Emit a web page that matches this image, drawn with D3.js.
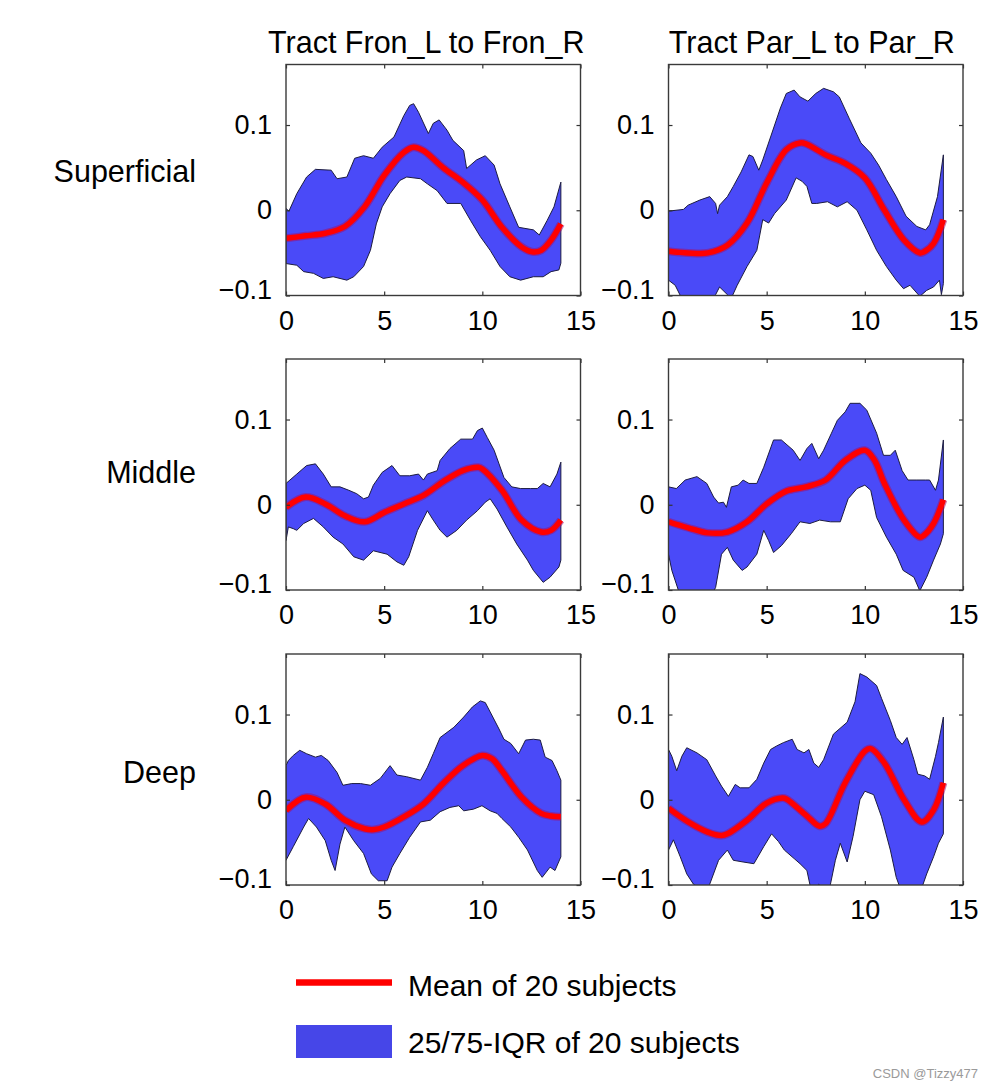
<!DOCTYPE html>
<html>
<head>
<meta charset="utf-8">
<script src="https://cdn.jsdelivr.net/npm/d3@7"></script>
<style>
  html, body { margin: 0; padding: 0; background: #fff; }
  svg { display: block; }
  text { font-family: "Liberation Sans", Arial, Helvetica, sans-serif; fill: #000; }
</style>
</head>
<body>
<svg id="chart" width="996" height="1090"></svg>
<script>
// ---------- labels / ticks ----------
const colTitles = ["Tract Fron_L to Fron_R", "Tract Par_L to Par_R"];
const rowLabels = ["Superficial", "Middle", "Deep"];
const xTicks = [0, 5, 10, 15];
const yTicks = [-0.1, 0, 0.1];
const legendLabels = ["Mean of 20 subjects", "25/75-IQR of 20 subjects"];
const watermark = "CSDN @Tizzy477";

// ---------- data: [position, value] ----------
// Row 1: Superficial, Fron
const fronSupUpper = [[0,0.002],[0.15,-0.001],[0.55,0.0195],[1.05,0.039],[1.5,0.048],[2.3,0.047],[2.6,0.037],[3.1,0.039],[3.5,0.061],[3.95,0.064],[4.45,0.061],[4.9,0.074],[5.5,0.086],[6.0,0.111],[6.3,0.123],[6.5,0.125],[6.75,0.115],[7.25,0.090],[7.5,0.102],[7.8,0.106],[8.2,0.094],[8.5,0.082],[9.05,0.070],[9.2,0.049],[9.7,0.059],[10.15,0.064],[10.6,0.053],[10.9,0.031],[11.4,0.004],[11.85,-0.020],[12.6,-0.023],[12.9,-0.029],[13.3,-0.012],[13.65,0.004],[14,0.033]];
const fronSupLower = [[0,-0.0625],[0.55,-0.0645],[0.9,-0.072],[1.4,-0.074],[1.9,-0.080],[2.4,-0.078],[3.1,-0.082],[3.45,-0.078],[3.95,-0.066],[4.3,-0.047],[4.6,-0.016],[4.9,0.004],[5.3,0.0195],[5.8,0.035],[6.15,0.039],[6.85,0.037],[7.2,0.031],[7.7,0.023],[8.2,0.008],[8.9,0.008],[9.4,-0.012],[9.9,-0.031],[10.4,-0.047],[10.9,-0.066],[11.4,-0.078],[11.95,-0.082],[12.6,-0.078],[13.1,-0.078],[13.5,-0.072],[13.9,-0.070],[14,-0.062]];
const fronSupMean = [[0,-0.033],[1,-0.030],[2,-0.027],[3,-0.019],[4,0.004],[5,0.041],[6,0.068],[6.5,0.074],[7,0.070],[8,0.050],[9,0.033],[10,0.012],[11,-0.020],[12,-0.043],[12.6,-0.049],[13,-0.047],[13.5,-0.035],[14,-0.016]];

// Row 1: Superficial, Par
const parSupUpper = [[0,-0.001],[0.76,0.001],[1.0,0.006],[1.6,0.012],[2.1,0.016],[2.4,0.008],[2.5,-0.004],[2.6,0.006],[3.0,0.016],[3.3,0.028],[3.7,0.045],[4.1,0.065],[4.3,0.063],[4.6,0.047],[4.8,0.059],[5.2,0.086],[5.7,0.120],[6.0,0.137],[6.4,0.141],[6.7,0.133],[7.1,0.128],[7.5,0.137],[7.9,0.143],[8.4,0.139],[8.7,0.133],[9.2,0.108],[9.8,0.079],[10.3,0.067],[10.7,0.053],[11.1,0.036],[11.6,0.016],[12.1,-0.007],[12.65,-0.019],[13.1,-0.023],[13.3,-0.017],[13.7,0.016],[14,0.065]];
const parSupLower = [[0,-0.082],[0.34,-0.088],[0.6,-0.100],[1.1,-0.115],[2.1,-0.110],[2.4,-0.099],[2.6,-0.090],[3.0,-0.099],[3.2,-0.103],[3.5,-0.088],[4.0,-0.066],[4.5,-0.047],[4.8,-0.011],[5.1,-0.015],[5.4,-0.004],[6.0,0.012],[6.5,0.038],[6.8,0.034],[7.05,0.028],[7.3,0.008],[7.55,0.008],[8.1,0.010],[8.6,0.004],[9.1,0.010],[9.6,0.000],[10.1,-0.023],[10.6,-0.047],[11.1,-0.066],[11.6,-0.082],[11.97,-0.092],[12.3,-0.088],[12.8,-0.101],[13.15,-0.094],[13.5,-0.090],[13.8,-0.082],[13.9,-0.099],[14,-0.086]];
const parSupMean = [[0,-0.048],[1,-0.050],[2,-0.050],[3,-0.041],[4,-0.015],[5,0.032],[6,0.071],[6.7,0.079],[7,0.078],[8,0.065],[9,0.055],[10,0.038],[11,0.000],[12,-0.035],[12.8,-0.050],[13,-0.049],[13.5,-0.039],[14,-0.011]];

// Row 2: Middle, Fron
const fronMidUpper = [[0,0.025],[0.2,0.029],[0.55,0.036],[1.05,0.046],[1.5,0.048],[1.9,0.036],[2.3,0.021],[2.75,0.021],[3.2,0.017],[3.6,0.013],[3.95,0.007],[4.2,0.009],[4.45,0.023],[4.9,0.038],[5.4,0.046],[5.8,0.034],[6.3,0.034],[6.75,0.036],[7.0,0.029],[7.2,0.036],[7.7,0.040],[7.85,0.052],[8.35,0.066],[8.9,0.077],[9.5,0.077],[9.75,0.087],[10.0,0.090],[10.25,0.079],[10.6,0.064],[10.85,0.048],[11.1,0.032],[11.5,0.021],[11.95,0.019],[12.45,0.019],[12.8,0.019],[13.1,0.025],[13.45,0.021],[13.8,0.036],[14,0.050]];
const fronMidLower = [[0,-0.042],[0.12,-0.026],[0.37,-0.028],[0.55,-0.030],[0.9,-0.022],[1.4,-0.016],[1.9,-0.026],[2.4,-0.038],[2.9,-0.046],[3.45,-0.061],[3.95,-0.065],[4.45,-0.054],[5.15,-0.058],[5.65,-0.067],[6.0,-0.071],[6.25,-0.061],[6.7,-0.030],[7.2,-0.007],[7.5,-0.018],[7.85,-0.030],[8.2,-0.038],[8.7,-0.030],[9.2,-0.018],[9.75,-0.007],[10.15,0.003],[10.4,0.007],[10.75,-0.005],[11.25,-0.026],[11.75,-0.046],[12.3,-0.065],[12.6,-0.077],[13.1,-0.091],[13.45,-0.085],[13.9,-0.073],[14,-0.065]];
const fronMidMean = [[0,-0.003],[1,0.009],[2,0.001],[3,-0.013],[4,-0.020],[5,-0.009],[6,0.001],[7,0.011],[8,0.027],[9,0.040],[9.8,0.044],[10,0.042],[11,0.017],[12,-0.018],[13,-0.032],[13.5,-0.030],[14,-0.018]];

// Row 2: Middle, Par
const parMidUpper = [[0,0.021],[0.4,0.019],[0.85,0.029],[1.45,0.033],[1.95,0.025],[2.3,0.009],[2.55,0.002],[2.8,0.003],[2.95,-0.003],[3.2,0.021],[3.55,0.023],[3.8,0.029],[4.1,0.025],[4.5,0.025],[4.85,0.044],[5.35,0.076],[5.75,0.076],[6.35,0.064],[6.7,0.052],[7.05,0.066],[7.3,0.072],[7.65,0.054],[7.9,0.064],[8.3,0.084],[8.6,0.099],[9.0,0.109],[9.25,0.119],[9.75,0.119],[10.1,0.111],[10.6,0.084],[10.95,0.058],[11.3,0.058],[11.55,0.064],[11.9,0.040],[12.2,0.029],[12.65,0.029],[13.1,0.029],[13.3,0.029],[13.6,0.017],[13.75,0.029],[14,0.076]];
const parMidLower = [[0,-0.058],[0.17,-0.077],[0.5,-0.100],[1.27,-0.120],[2.0,-0.115],[2.4,-0.097],[2.7,-0.058],[3.0,-0.050],[3.3,-0.065],[3.75,-0.077],[4.0,-0.073],[4.5,-0.058],[4.85,-0.030],[5.1,-0.042],[5.35,-0.056],[5.75,-0.048],[6.25,-0.034],[6.7,-0.020],[7.2,-0.022],[7.7,-0.018],[8.25,-0.020],[8.75,-0.020],[9.15,0.007],[9.6,0.019],[10.0,0.023],[10.3,0.017],[10.6,-0.015],[11.1,-0.038],[11.6,-0.058],[11.95,-0.077],[12.5,-0.085],[12.8,-0.101],[13.15,-0.085],[13.5,-0.065],[13.85,-0.046],[14,-0.034]];
const parMidMean = [[0,-0.020],[1,-0.027],[2,-0.033],[3,-0.032],[4,-0.020],[5,0.001],[6,0.016],[7,0.021],[8,0.029],[9,0.052],[10,0.064],[10.5,0.052],[11,0.025],[12,-0.018],[12.8,-0.038],[13,-0.036],[13.5,-0.022],[14,0.006]];

// Row 3: Deep, Fron
const fronDeepUpper = [[0,0.040],[0.12,0.046],[0.37,0.052],[0.7,0.058],[1.05,0.054],[1.5,0.050],[1.8,0.052],[2.15,0.046],[2.6,0.032],[2.9,0.017],[3.35,0.019],[3.8,0.019],[4.3,0.017],[4.8,0.025],[5.3,0.040],[5.65,0.029],[6.15,0.027],[6.85,0.023],[7.2,0.038],[7.5,0.054],[7.85,0.073],[8.55,0.085],[9.05,0.097],[9.5,0.109],[9.9,0.116],[10.15,0.114],[10.4,0.103],[10.85,0.083],[11.1,0.071],[11.45,0.066],[11.85,0.054],[12.2,0.070],[12.6,0.071],[12.95,0.070],[13.2,0.050],[13.55,0.046],[13.8,0.034],[14,0.023]];
const fronDeepLower = [[0,-0.071],[0.37,-0.055],[0.9,-0.032],[1.15,-0.022],[1.55,-0.032],[2.0,-0.048],[2.3,-0.071],[2.5,-0.083],[2.75,-0.052],[3.0,-0.032],[3.45,-0.048],[3.95,-0.063],[4.35,-0.087],[4.7,-0.095],[5.15,-0.095],[5.4,-0.079],[5.8,-0.063],[6.3,-0.044],[6.85,-0.026],[7.35,-0.024],[7.85,-0.014],[8.35,-0.009],[8.8,-0.007],[9.05,-0.013],[9.55,-0.011],[9.98,-0.007],[10.4,-0.013],[10.75,-0.016],[11.0,-0.022],[11.45,-0.032],[11.85,-0.044],[12.3,-0.059],[12.8,-0.083],[13.05,-0.091],[13.45,-0.079],[13.7,-0.083],[14,-0.067]];
const fronDeepMean = [[0,-0.0125],[1,0.003],[2,-0.005],[3,-0.024],[4,-0.034],[4.5,-0.035],[5,-0.032],[6,-0.020],[7,-0.005],[8,0.019],[9,0.040],[10,0.052],[10.5,0.048],[11,0.034],[12,0.003],[13,-0.016],[13.5,-0.019],[14,-0.020]];

// Row 3: Deep, Par
const parDeepUpper = [[0,0.059],[0.17,0.051],[0.42,0.034],[0.68,0.051],[0.93,0.061],[1.45,0.055],[1.95,0.047],[2.4,0.028],[2.7,0.016],[3.05,0.004],[3.4,0.018],[3.65,0.014],[4.1,0.014],[4.5,0.024],[4.85,0.043],[5.2,0.059],[5.5,0.063],[5.85,0.067],[6.3,0.071],[6.55,0.059],[6.9,0.055],[7.15,0.059],[7.4,0.043],[7.65,0.038],[7.9,0.047],[8.4,0.077],[9.1,0.091],[9.5,0.115],[9.75,0.148],[10.1,0.144],[10.6,0.134],[10.85,0.119],[11.3,0.093],[11.6,0.073],[11.9,0.065],[12.15,0.073],[12.5,0.047],[12.7,0.030],[13.05,0.028],[13.3,0.024],[13.6,0.051],[13.75,0.067],[14,0.097]];
const parDeepLower = [[0,-0.059],[0.25,-0.047],[0.6,-0.067],[0.93,-0.087],[1.27,-0.099],[1.8,-0.107],[2.1,-0.099],[2.55,-0.071],[3.0,-0.059],[3.3,-0.071],[3.8,-0.073],[4.35,-0.075],[4.85,-0.055],[5.25,-0.040],[5.6,-0.049],[5.9,-0.059],[6.4,-0.069],[6.7,-0.075],[7.05,-0.083],[7.3,-0.110],[7.65,-0.099],[8.15,-0.110],[8.5,-0.071],[8.75,-0.051],[9.1,-0.073],[9.4,-0.043],[9.75,0.000],[10.0,0.010],[10.45,0.006],[10.85,-0.020],[11.3,-0.059],[11.6,-0.091],[11.9,-0.110],[12.8,-0.110],[13.15,-0.087],[13.5,-0.067],[13.75,-0.051],[14,-0.040]];
const parDeepMean = [[0,-0.010],[1,-0.026],[2,-0.038],[2.7,-0.042],[3,-0.040],[4,-0.024],[5,-0.004],[5.8,0.002],[6,0.001],[7,-0.018],[7.7,-0.031],[8,-0.028],[9,0.020],[10,0.057],[10.3,0.060],[11,0.043],[12,0.000],[12.9,-0.026],[13.5,-0.012],[14,0.020]];

// ---------- layout ----------
const svg = d3.select("#chart");
svg.append("rect").attr("width", 996).attr("height", 1090).attr("fill", "#fff");

const colX = [286, 668.5];
const rowY = [64.5, 359, 654];
const plotW = 294.5, plotH = 231;
const rowLabelBaseline = [117.5, 123.5, 129];
const titleShift = [-7, -4];

const panels = [
  [fronSupUpper, fronSupLower, fronSupMean, parSupUpper, parSupLower, parSupMean],
  [fronMidUpper, fronMidLower, fronMidMean, parMidUpper, parMidLower, parMidMean],
  [fronDeepUpper, fronDeepLower, fronDeepMean, parDeepUpper, parDeepLower, parDeepMean]
];

const x = d3.scaleLinear().domain([0, 15]).range([0, plotW]);
const y = d3.scaleLinear().domain([-0.1, 0.171]).range([plotH, 0]);

const bandColor = "#4a4af8";
const tickFont = 27;
const labelFont = 30.5;

svg.append("defs").append("clipPath").attr("id", "plotClip")
  .append("rect").attr("x", 0).attr("y", 0).attr("width", plotW).attr("height", plotH);

const polyLine = d3.line().x(d => x(d[0])).y(d => y(d[1]));
const meanLine = d3.line().x(d => x(d[0])).y(d => y(d[1])).curve(d3.curveCatmullRom.alpha(0.5));

rowLabels.forEach((rl, r) => {
  // row label
  svg.append("text")
    .attr("x", 196).attr("y", rowY[r] + rowLabelBaseline[r])
    .attr("text-anchor", "end")
    .attr("font-size", labelFont)
    .text(rl);

  [0, 1].forEach(c => {
    const upper = panels[r][c * 3], lower = panels[r][c * 3 + 1], mean = panels[r][c * 3 + 2];
    const g = svg.append("g").attr("transform", `translate(${colX[c]},${rowY[r]})`);

    const inner = g.append("g").attr("clip-path", "url(#plotClip)");
    // IQR band
    inner.append("path")
      .attr("d", polyLine(upper.concat(lower.slice().reverse())) + "Z")
      .attr("fill", bandColor)
      .attr("stroke", "#1c1c40")
      .attr("stroke-width", 1)
      .attr("stroke-linejoin", "round");
    // mean line (halo + red)
    inner.append("path")
      .attr("d", meanLine(mean))
      .attr("fill", "none")
      .attr("stroke", "#a01070")
      .attr("stroke-opacity", 0.55)
      .attr("stroke-width", 8);
    inner.append("path")
      .attr("d", meanLine(mean))
      .attr("fill", "none")
      .attr("stroke", "#ff0000")
      .attr("stroke-width", 5.5);

    // axes
    const bottom = g.append("g").attr("transform", `translate(0,${plotH})`)
      .call(d3.axisBottom(x).tickValues(xTicks).tickSizeInner(-4).tickSizeOuter(0).tickPadding(15).tickFormat(d3.format("d")));
    const left = g.append("g")
      .call(d3.axisLeft(y).tickValues(yTicks).tickSizeInner(-4).tickSizeOuter(0).tickPadding(14)
        .tickFormat(d => d === 0 ? "0" : d3.format(".1f")(d).replace("-", "\u2212")));
    const top = g.append("g")
      .call(d3.axisTop(x).tickValues(xTicks).tickSizeInner(-4).tickSizeOuter(0).tickFormat(""));
    const right = g.append("g").attr("transform", `translate(${plotW},0)`)
      .call(d3.axisRight(y).tickValues(yTicks).tickSizeInner(-4).tickSizeOuter(0).tickFormat(""));

    [bottom, left, top, right].forEach(a => {
      a.select(".domain").remove();
      a.selectAll(".tick line").attr("stroke", "#333").attr("stroke-width", 1.2);
      a.selectAll("text").attr("font-size", tickFont).attr("font-family", "'Liberation Sans', Arial, sans-serif").attr("fill", "#000");
    });
    left.selectAll(".tick text").filter(d => d === -0.1).attr("dy", "0.1em");

    // frame
    g.append("rect")
      .attr("x", 0).attr("y", 0).attr("width", plotW).attr("height", plotH)
      .attr("fill", "none").attr("stroke", "#3a3a3a").attr("stroke-width", 1.4);

    // column title
    if (r === 0) {
      g.append("text")
        .attr("x", plotW / 2 + titleShift[c]).attr("y", -12)
        .attr("text-anchor", "middle")
        .attr("font-size", labelFont)
        .text(colTitles[c]);
    }
  });
});

// ---------- legend ----------
const leg = svg.append("g").attr("transform", "translate(296,0)");
leg.append("line")
  .attr("x1", 0).attr("x2", 96).attr("y1", 982.5).attr("y2", 982.5)
  .attr("stroke", "#ff0000").attr("stroke-width", 6.5);
leg.append("rect")
  .attr("x", 0).attr("y", 1025).attr("width", 96).attr("height", 33)
  .attr("fill", "#4646e8");
leg.append("text").attr("x", 112).attr("y", 996).attr("font-size", 30).text(legendLabels[0]);
leg.append("text").attr("x", 112).attr("y", 1053).attr("font-size", 30).text(legendLabels[1]);

// watermark
svg.append("text")
  .attr("x", 978).attr("y", 1078)
  .attr("text-anchor", "end")
  .attr("font-size", 13)
  .attr("font-family", "'Liberation Sans', Arial, sans-serif")
  .style("fill", "#9a9a9a")
  .text(watermark);
</script>
</body>
</html>
